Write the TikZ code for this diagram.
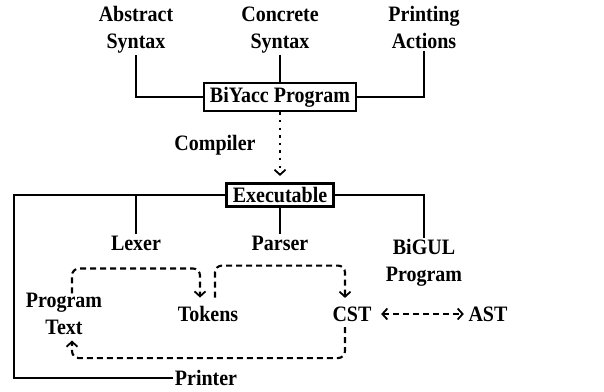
\documentclass[tikz,border=0pt]{standalone}
\usepackage{fontspec}
\setmainfont{Liberation Serif}
\usetikzlibrary{arrows.meta}
\newcommand{\tl}[1]{\scalebox{1}[1.1]{#1}}
\begin{document}
\begin{tikzpicture}[x=1pt,y=1pt,
  lbl/.style={font=\fontsize{20}{27}\selectfont\bfseries, align=center, inner sep=1.5pt},
  boxn/.style={lbl, draw, line width=2.6pt, inner xsep=6pt, inner ysep=4pt},
  wire/.style={line width=2.3pt},
  dsh/.style={line width=2.1pt, dash pattern=on 6pt off 4pt, rounded corners=7pt},
  barb/.tip={Straight Barb[length=5pt,width=11pt,line width=1.8pt]},
  tip/.style={-barb},
  tips/.style={barb-barb}]
\useasboundingbox (0,0) rectangle (604,-391);
\node[lbl, anchor=north] (abs) at (136,-5) {\tl{Abstract}\\\tl{Syntax}};
\node[lbl, anchor=north] (con) at (280,-5) {\tl{Concrete}\\\tl{Syntax}};
\node[lbl, anchor=north] (pra) at (424,-5) {\tl{Printing}\\\tl{Actions}};
\node[boxn] (biy) at (280,-97) {\tl{BiYacc Program}};
\node[lbl] (cmp) at (215,-145) {\tl{Compiler}};
\node[boxn] (exe) at (280,-195) {\tl{Executable}};
\node[lbl] (lex) at (136,-243) {\tl{Lexer}};
\node[lbl] (par) at (280,-243) {\tl{Parser}};
\node[lbl] (big) at (424,-263) {\tl{BiGUL}\\\tl{Program}};
\node[lbl] (pt) at (64,-314) {\tl{Program}\\\tl{Text}};
\node[lbl] (tok) at (208,-314) {\tl{Tokens}};
\node[lbl] (cst) at (352,-314) {\tl{CST}};
\node[lbl] (ast) at (488,-314) {\tl{AST}};
\node[lbl] (prn) at (206,-378) {\tl{Printer}};
\coordinate (lc) at (14,-195);
% top wires
\draw[wire] (abs.south) |- (biy.west);
\draw[wire] (con.south) -- (biy.north);
\draw[wire] (pra.south) |- (biy.east);
\draw[line width=2.4pt, dash pattern=on 2.4pt off 5.2pt, tip] (biy.south) -- ([yshift=6pt]exe.north);
% executable wires
\draw[wire] (exe.west) -- (lc) |- (prn.west);
\draw[wire] (lex.north) -- (lex.north |- exe.west);
\draw[wire] (exe.south) -- (par.north);
\draw[wire] (exe.east) -| (big.north);
% dashed flows
\draw[dsh, tip] ([xshift=8pt,yshift=-2pt]pt.north) -- ++(0,25) -| ([shift={(-8pt,7pt)}]tok.north);
\draw[dsh, tip] ([shift={(7pt,7pt)}]tok.north) -- ++(0,32) -| ([shift={(-7pt,7pt)}]cst.north);
\draw[dsh, tip] ([shift={(-7pt,-4pt)}]cst.south) -- ++(0,-31) -| ([xshift=8pt,yshift=-4pt]pt.south);
\draw[line width=2.1pt, dash pattern=on 6pt off 4pt, tips, shorten <=8pt, shorten >=3pt] (cst.east) -- (ast.west);
\end{tikzpicture}
\end{document}
